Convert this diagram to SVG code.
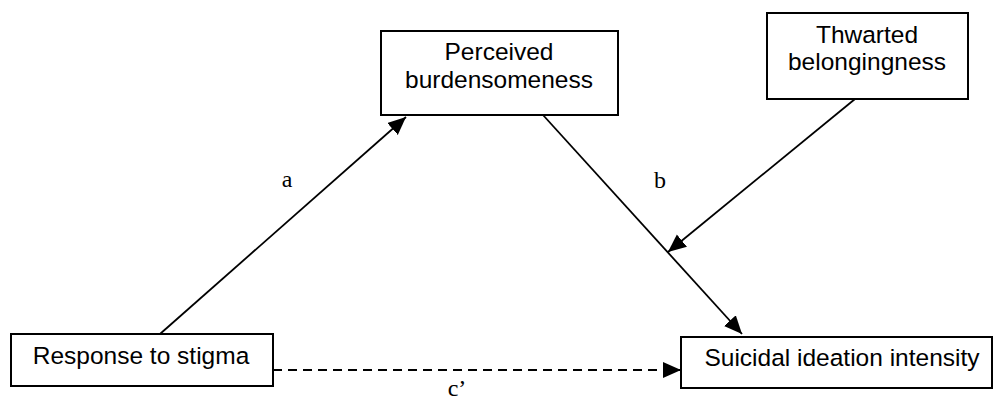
<svg xmlns="http://www.w3.org/2000/svg" width="995" height="401" viewBox="0 0 995 401">
<defs>
<style>
.box{fill:#fff;stroke:#000;stroke-width:2}
.t{font-family:"Liberation Sans",Arial,sans-serif;font-size:24.5px;fill:#000;text-anchor:middle}
.lbl{font-family:"Liberation Serif","Times New Roman",serif;font-size:24px;fill:#000;text-anchor:middle}
.c{stroke:#000;stroke-width:1.8;fill:none}
</style>
<marker id="ah" markerUnits="userSpaceOnUse" markerWidth="20" markerHeight="18" refX="18" refY="8" orient="auto">
<path d="M0,0 L18,8 L0,16 Z" fill="#000"/>
</marker>
</defs>
<rect width="995" height="401" fill="#fff"/>
<g id="connectors">
<line class="c" x1="160" y1="334" x2="406" y2="117" marker-end="url(#ah)"/>
<line class="c" x1="543" y1="115" x2="742" y2="334" marker-end="url(#ah)"/>
<line class="c" x1="855" y1="99" x2="668" y2="252" marker-end="url(#ah)"/>
<line class="c" x1="273" y1="370" x2="681" y2="370" stroke-dasharray="9,6" marker-end="url(#ah)"/>
</g>
<g id="perceived">
<rect class="box" x="381" y="31" width="237" height="84"/>
<text class="t" x="499" y="60">Perceived</text>
<text class="t" x="499" y="88">burdensomeness</text>
</g>
<g id="thwarted">
<rect class="box" x="767" y="13" width="201" height="86"/>
<text class="t" x="867" y="43">Thwarted</text>
<text class="t" x="867" y="70">belongingness</text>
</g>
<g id="response">
<rect class="box" x="11" y="334" width="262" height="52"/>
<text class="t" x="141" y="364">Response to stigma</text>
</g>
<g id="suicidal">
<rect class="box" x="681" y="337" width="311" height="51"/>
<text class="t" x="842" y="366">Suicidal ideation intensity</text>
</g>
<g id="labels">
<text class="lbl" x="287" y="187">a</text>
<text class="lbl" x="660" y="188">b</text>
<text class="lbl" x="457" y="396">c’</text>
</g>
</svg>
